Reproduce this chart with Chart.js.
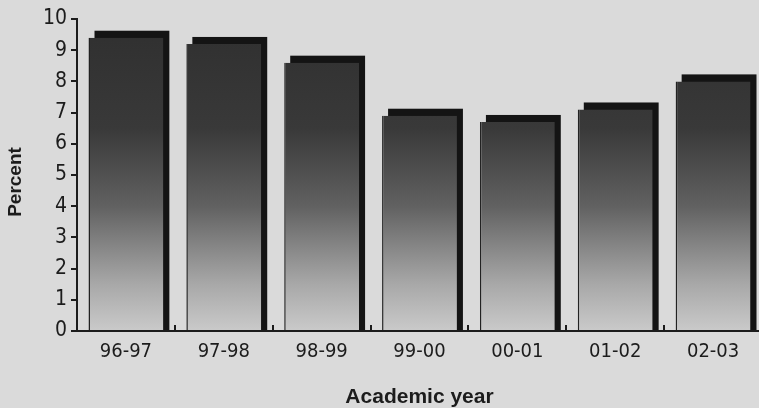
<!DOCTYPE html>
<html>
<head>
<meta charset="utf-8">
<script src="https://cdn.jsdelivr.net/npm/chart.js@4/dist/chart.umd.min.js"></script>
<style>
  html, body { margin: 0; padding: 0; background: #dadada; overflow: hidden; }
  #wrap { position: relative; width: 780px; height: 408px; }
</style>
</head>
<body>
<div id="wrap"><canvas id="chart"></canvas></div>
<script>
// Share of students, by academic year
const years = ['96-97', '97-98', '98-99', '99-00', '00-01', '01-02', '02-03'];
const percentValues = [9.4, 9.2, 8.6, 6.9, 6.7, 7.1, 8.0];
const yTicks = [0, 1, 2, 3, 4, 5, 6, 7, 8, 9, 10];
const yTitle = 'Percent';
const xTitle = 'Academic year';

const INK = '#1c1c1c';
const NARROW = "'Liberation Sans Narrow', 'DejaVu Sans Condensed', 'Roboto Condensed', 'Liberation Sans', sans-serif";
const BOLD = "'Liberation Sans', Arial, sans-serif";

let gradCache = null;
function barGradient(ctx) {
  const area = ctx.chart.chartArea;
  if (!area) return '#555';
  const key = area.top + ':' + area.bottom;
  if (gradCache && gradCache.key === key) return gradCache.g;
  const g = ctx.chart.ctx.createLinearGradient(0, area.top, 0, area.bottom);
  g.addColorStop(0, '#2f2f2f');
  g.addColorStop(0.35, '#393939');
  g.addColorStop(0.6, '#616161');
  g.addColorStop(0.85, '#a8a8a8');
  g.addColorStop(1, '#cacaca');
  gradCache = { key, g };
  return g;
}

// Solid block behind each bar, offset up and to the right
const blockShadow = {
  id: 'blockShadow',
  beforeDatasetsDraw(chart) {
    const ctx = chart.ctx;
    const meta = chart.getDatasetMeta(0);
    ctx.save();
    ctx.fillStyle = '#141414';
    meta.data.forEach(bar => {
      const { x, y, base, width } = bar.getProps(['x', 'y', 'base', 'width'], true);
      ctx.fillRect(x - width / 2 + 6, y - 7, width, base - y + 7);
    });
    ctx.restore();
  }
};

// Short marks rising from the baseline between categories
const innerTicks = {
  id: 'innerTicks',
  afterDatasetsDraw(chart) {
    const xs = chart.scales.x;
    const bottom = chart.chartArea.bottom;
    const ctx = chart.ctx;
    ctx.save();
    ctx.strokeStyle = INK;
    ctx.lineWidth = 2;
    for (let i = 0; i < years.length; i++) {
      const a = xs.getPixelForValue(i);
      const b = i + 1 < years.length ? xs.getPixelForValue(i + 1) : a + (a - xs.getPixelForValue(i - 1));
      const x = Math.round((a + b) / 2);
      ctx.beginPath();
      ctx.moveTo(x, bottom);
      ctx.lineTo(x, bottom - 6);
      ctx.stroke();
    }
    ctx.restore();
  }
};

// Rotated y-axis caption, sitting a little below the axis middle
const yCaption = {
  id: 'yCaption',
  afterDraw(chart) {
    const area = chart.chartArea;
    const ctx = chart.ctx;
    ctx.save();
    ctx.translate(16, (area.top + area.bottom) / 2 + 7);
    ctx.rotate(-Math.PI / 2);
    ctx.fillStyle = INK;
    ctx.font = 'bold 19px ' + BOLD;
    ctx.textAlign = 'center';
    ctx.textBaseline = 'middle';
    ctx.fillText(yTitle, 0, 0);
    ctx.restore();
  }
};

const paper = {
  id: 'paper',
  beforeDraw(chart) {
    const ctx = chart.ctx;
    ctx.save();
    ctx.fillStyle = '#dadada';
    ctx.fillRect(0, 0, chart.width, chart.height);
    ctx.restore();
  }
};

new Chart(document.getElementById('chart'), {
  type: 'bar',
  data: {
    labels: years,
    datasets: [{
      data: percentValues,
      backgroundColor: barGradient,
      borderColor: '#222',
      borderWidth: { left: 1.5, top: 0, right: 0, bottom: 0 },
      borderSkipped: 'bottom',
      categoryPercentage: 1,
      barPercentage: 0.765
    }]
  },
  options: {
    responsive: true,
    maintainAspectRatio: false,
    animation: false,
    layout: { padding: { left: 0, right: 18, top: 19, bottom: 0 } },
    plugins: { legend: { display: false }, tooltip: { enabled: false } },
    scales: {
      x: {
        grid: { display: false },
        border: { display: true, color: INK, width: 2 },
        ticks: { color: INK, font: { family: NARROW, size: 20 }, padding: 1, maxRotation: 0, autoSkip: false },
        title: { display: true, text: xTitle, color: INK, font: { family: BOLD, size: 21, weight: 'bold' }, padding: { top: 0, bottom: -2 } },
        afterFit(scale) { scale.height = 77; }
      },
      y: {
        min: 0,
        max: 10,
        afterBuildTicks(scale) { scale.ticks = yTicks.map(v => ({ value: v })); },
        grid: { display: true, drawOnChartArea: false, drawTicks: true, tickLength: 6, color: INK, lineWidth: 2 },
        border: { display: true, color: INK, width: 2 },
        ticks: { color: INK, font: { family: NARROW, size: 21 }, padding: 4 },
        title: { display: false },
        afterFit(scale) { scale.width = 77; }
      }
    }
  },
  plugins: [paper, blockShadow, innerTicks, yCaption]
});
</script>
</body>
</html>
